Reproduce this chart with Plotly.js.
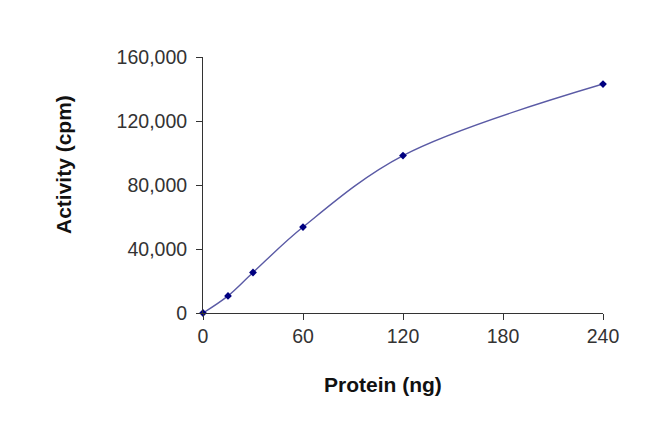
<!DOCTYPE html>
<html>
<head>
<meta charset="utf-8">
<script src="https://cdn.plot.ly/plotly-3.0.1.min.js"></script>
<style>
  html, body { margin: 0; padding: 0; background: #fff; }
  #chart { width: 650px; height: 429px; }
</style>
</head>
<body>
<div id="chart"></div>
<script>
var protein = [0, 15, 30, 60, 120, 240];
var activity = [0, 10700, 25300, 53700, 98400, 143100];
var xTicks = [0, 60, 120, 180, 240];
var yTicks = [0, 40000, 80000, 120000, 160000];

var data = [{
    x: protein,
    y: activity,
    type: 'scatter',
    mode: 'lines+markers',
    line: { shape: 'spline', smoothing: 1, color: '#5a5aa5', width: 1.4 },
    marker: { symbol: 'diamond', size: 6, color: '#000080' },
    cliponaxis: false,
    hoverinfo: 'skip'
}];

var axisFont = { family: 'Liberation Sans, Arial, sans-serif', size: 19.5, color: '#333' };
var titleFont = { family: 'Liberation Sans, Arial, sans-serif', size: 21, color: '#111', weight: 'bold' };

var layout = {
    width: 650,
    height: 429,
    margin: { l: 203, r: 47, t: 57, b: 116 },
    paper_bgcolor: '#fff',
    plot_bgcolor: '#fff',
    showlegend: false,
    xaxis: {
        range: [0, 240],
        tickvals: xTicks,
        ticks: 'outside',
        ticklen: 6,
        tickcolor: '#333',
        showline: true,
        linecolor: '#333',
        linewidth: 1,
        showgrid: false,
        zeroline: false,
        tickfont: axisFont
    },
    yaxis: {
        range: [0, 160000],
        tickvals: yTicks,
        tickformat: ',d',
        ticks: 'outside',
        ticklen: 6,
        ticklabelstandoff: 5,
        tickcolor: '#333',
        showline: true,
        linecolor: '#333',
        linewidth: 1,
        showgrid: false,
        zeroline: false,
        tickfont: axisFont
    },
    annotations: [{
        text: '<b>Protein (ng)</b>',
        xref: 'paper', yref: 'paper',
        x: 0.45, y: -0.281,
        xanchor: 'center', yanchor: 'middle',
        showarrow: false,
        font: titleFont
    }, {
        text: '<b>Activity (cpm)</b>',
        xref: 'paper', yref: 'paper',
        x: -0.35, y: 0.578,
        xanchor: 'center', yanchor: 'middle',
        textangle: -90,
        showarrow: false,
        font: titleFont
    }]
};

Plotly.newPlot('chart', data, layout, { staticPlot: true });
</script>
</body>
</html>
